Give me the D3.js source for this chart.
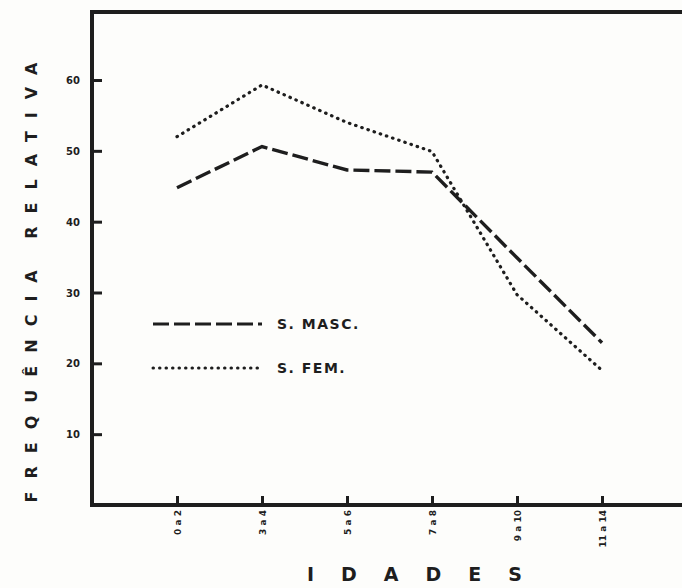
<!DOCTYPE html>
<html>
<head>
<meta charset="utf-8">
<script src="https://cdn.jsdelivr.net/npm/d3@7"></script>
<style>
    body { margin: 0; background: #fdfdfb; }
    svg { display: block; }
    text { font-family: "DejaVu Sans", sans-serif; font-weight: bold; fill: #1e1e1e; }
</style>
</head>
<body>
<svg id="chart" width="682" height="588"></svg>
<script>
const idades = ['0 a 2', '3 a 4', '5 a 6', '7 a 8', '9 a 10', '11 a 14'];
const masc = [44.8, 50.6, 47.3, 47.0, 34.9, 22.9];
const fem = [52.0, 59.3, 54.0, 49.9, 29.7, 19.0];
const yTicks = [10, 20, 30, 40, 50, 60];

const ink = '#1e1e1e';
const svg = d3.select('#chart');

const x = d3.scalePoint().domain(idades).range([177, 602]);
const y = d3.scaleLinear().domain([0, 60]).range([505, 80]);

// frame
svg.append('path')
    .attr('d', 'M700,12 L92,12 L92,505 L700,505')
    .attr('fill', 'none')
    .attr('stroke', ink)
    .attr('stroke-width', 4);

// y axis ticks (pointing inward)
const yAxis = svg.append('g').attr('transform', 'translate(92,0)')
    .call(d3.axisRight(y).tickValues(yTicks).tickSize(10).tickFormat(''));
yAxis.select('.domain').remove();
yAxis.selectAll('line').attr('stroke', ink).attr('stroke-width', 3);

svg.selectAll('.ylab')
    .data(yTicks)
    .enter()
    .append('text')
    .attr('x', 80)
    .attr('y', function (d) { return y(d) + 4; })
    .attr('text-anchor', 'end')
    .style('font-size', '10px')
    .text(function (d) { return d; });

// x axis ticks (pointing up)
const xAxis = svg.append('g').attr('transform', 'translate(0,505)')
    .call(d3.axisTop(x).tickSize(9).tickFormat(''));
xAxis.select('.domain').remove();
xAxis.selectAll('line').attr('stroke', ink).attr('stroke-width', 3);

svg.selectAll('.xlab')
    .data(idades)
    .enter()
    .append('text')
    .attr('transform', function (d) { return 'translate(' + (x(d) + 3.5) + ',510) rotate(-90)'; })
    .attr('text-anchor', 'end')
    .style('font-size', '9px')
    .text(function (d) { return d; });

// lines
const line = d3.line()
    .x(function (d, i) { return x(idades[i]); })
    .y(function (d) { return y(d); });

svg.append('path')
    .datum(masc)
    .attr('d', line)
    .attr('fill', 'none')
    .attr('stroke', ink)
    .attr('stroke-width', 3.4)
    .attr('stroke-dasharray', '16,5');

svg.append('path')
    .datum(fem)
    .attr('d', line)
    .attr('fill', 'none')
    .attr('stroke', ink)
    .attr('stroke-width', 3.2)
    .attr('stroke-linecap', 'round')
    .attr('stroke-dasharray', '0.5,6');

// legend
const legend = [
    {label: 'S. MASC.', dash: '16,5', cap: 'butt', y: 324},
    {label: 'S. FEM.', dash: '0.5,6', cap: 'round', y: 368}
];
legend.forEach(function (d) {
    svg.append('line')
        .attr('x1', 153).attr('x2', 262)
        .attr('y1', d.y).attr('y2', d.y)
        .attr('stroke', ink)
        .attr('stroke-width', 3)
        .attr('stroke-linecap', d.cap)
        .attr('stroke-dasharray', d.dash);
    svg.append('text')
        .attr('x', 277)
        .attr('y', d.y + 5)
        .style('font-size', '14px')
        .style('letter-spacing', '1.5px')
        .text(d.label);
});

// axis titles
svg.append('text')
    .attr('transform', 'translate(37,276) rotate(-90)')
    .attr('text-anchor', 'middle')
    .style('font-size', '16px')
    .style('letter-spacing', '13px')
    .text('FREQUÊNCIA  RELATIVA');

svg.append('text')
    .attr('x', 428)
    .attr('y', 581)
    .attr('text-anchor', 'middle')
    .style('font-size', '19px')
    .style('letter-spacing', '27px')
    .text('IDADES');
</script>
</body>
</html>
